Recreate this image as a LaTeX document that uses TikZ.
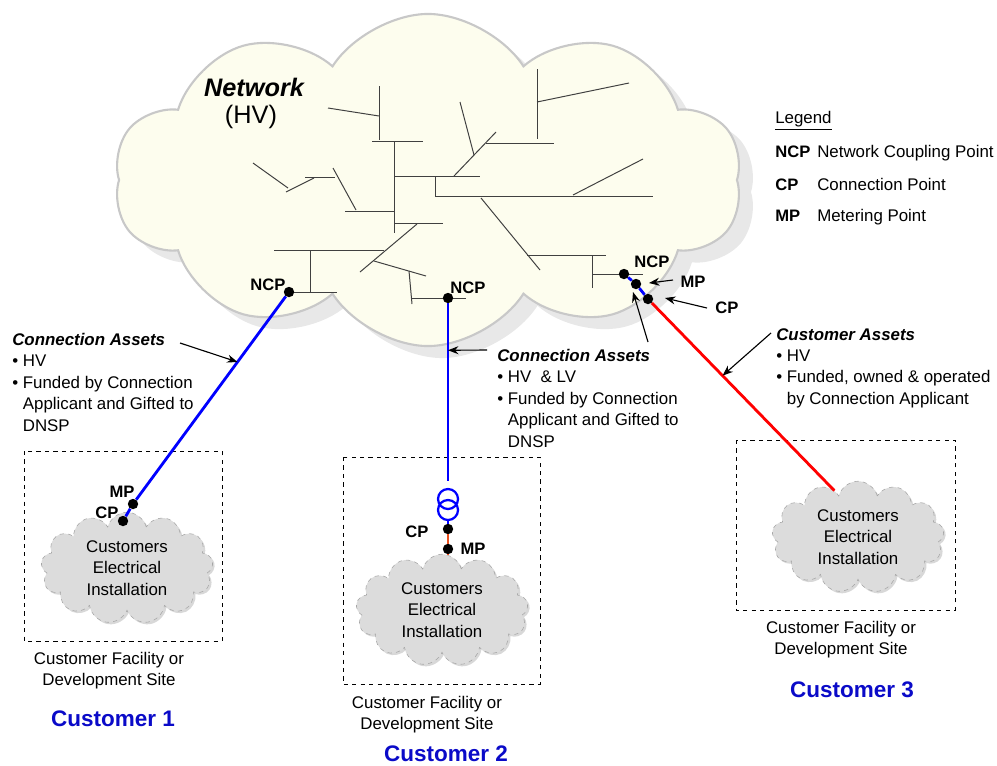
\documentclass[tikz,border=0pt]{standalone}
\usepackage{fontspec}
\setmainfont{Liberation Sans}
\usetikzlibrary{shapes.symbols,shadows,arrows.meta,calc}

\definecolor{ivoire}{RGB}{253,253,238}
\definecolor{bord}{RGB}{200,200,200}
\definecolor{ombre}{RGB}{232,232,232}
\definecolor{grisclair}{RGB}{220,220,220}
\definecolor{bleu}{RGB}{0,0,255}
\definecolor{rouge}{RGB}{255,0,0}
\definecolor{orangebt}{RGB}{235,80,30}
\definecolor{bleuclient}{RGB}{10,10,200}

\begin{document}
\begin{tikzpicture}[x=0.025cm, y=-0.025cm,
  net/.style={line width=0.7pt, black!75},
  pt/.style={circle, fill=black, inner sep=0pt, minimum size=0.26cm},
  tag/.style={font=\bfseries\fontsize{11.8}{14}\selectfont, inner sep=0pt},
  txt/.style={font=\fontsize{12}{15.2}\selectfont, inner sep=0pt, align=left},
  site/.style={dashed, line width=0.6pt},
  inst/.style={cloud, cloud puffs=13, cloud ignores aspect, draw=gray!70, dashed,
    fill=grisclair, minimum width=4.3cm, minimum height=2.65cm, align=center,
    font=\fontsize{12}{15.2}\selectfont,
    drop shadow={shadow xshift=0.05cm, shadow yshift=-0.05cm, fill=gray!60, opacity=0.5}},
  hv/.style={bleu, line width=2pt},
  ptr/.style={-{Stealth[length=2.6mm,width=2mm]}, line width=0.8pt},
  client/.style={font=\bfseries\fontsize{16}{19}\selectfont, text=bleuclient}]
  \useasboundingbox (0,0) rectangle (997,765);

  \node[cloud, cloud puffs=10, cloud puff arc=115, cloud ignores aspect, draw=bord,
    line width=1.5pt, fill=ivoire, minimum width=15.7cm, minimum height=8.3cm,
    drop shadow={shadow xshift=0.35cm, shadow yshift=-0.3cm, fill=ombre, opacity=1}]
    (reseau) at (428,180) {};
  \node[font=\bfseries\itshape\fontsize{18}{20}\selectfont] (titre) at (254,87) {Network};
  \node[font=\fontsize{18}{20}\selectfont] (niveau) at (251,117) {(HV)};

  \foreach \xa/\ya/\xb/\yb in {379/86/379/140, 328/108/379/116, 372/141/423/141,
      394/141/394/233, 394/176/480/176, 435/176/435/196, 435/196/653/196,
      573/195/643/159, 454/176/496/132, 460/102/474/155, 486/143/554/143,
      537/69/537/139, 537/102/629/83, 481/198/540/270, 527/255/606/255,
      592/255/592/288, 592/274/643/274, 253/163/288/188, 286/192/314/178,
      305/177/335/177, 333/168/356/210, 345/211/394/211, 394/223/443/223,
      417/224/360/272, 274/250/384/250, 310/250/310/292, 289/292/337/292,
      374/261/426/276, 409/271/412/304, 412/298/466/298} {
    \draw[net] (\xa,\ya) -- (\xb,\yb);
  }

  \node[txt, anchor=base west] (legende) at (775,123.5) {\underline{Legend}};
  \foreach \ab/\nom/\y in {NCP/Network Coupling Point/157, CP/Connection Point/190,
      MP/Metering Point/221} {
    \node[tag, anchor=base west] (l\ab) at (775,\y) {\ab};
    \node[txt, anchor=base west] (d\ab) at (817,\y) {\nom};
  }

  \draw[site] (24,451) rectangle (222,641);
  \draw[site] (343,457) rectangle (540,684);
  \draw[site] (736,440) rectangle (955,610);

  \node[inst] (inst1) at (127,568) {Customers\\Electrical\\Installation};
  \node[inst] (inst2) at (442,610) {Customers\\Electrical\\Installation};
  \node[inst] (inst3) at (858,537) {Customers\\Electrical\\Installation};

  \node[pt] (ncp1) at (289,292) {};
  \node[pt] (mp1) at (133,504) {};
  \node[pt] (cp1) at (123,521) {};
  \node[pt] (ncp2) at (448,298) {};
  \node[pt] (cp2) at (448,529) {};
  \node[pt] (mp2) at (448,549) {};
  \node[pt] (ncp3) at (624,274) {};
  \node[pt] (mp3) at (636,284) {};
  \node[pt] (cp3) at (648,299) {};
  \node[circle, draw=bleu, line width=1.6pt, minimum size=0.5cm, inner sep=0pt] (tra) at (448,499) {};
  \node[circle, draw=bleu, line width=1.6pt, minimum size=0.5cm, inner sep=0pt] (trb) at (448,510) {};

  \draw[hv] (ncp1) -- (mp1) -- (cp1);
  \draw[hv] (ncp2) -- ([yshift=0.18cm]tra.north);
  \draw[hv] (trb) -- (cp2);
  \draw[orangebt, line width=1.4pt] (cp2) -- (mp2) -- (mp2 |- inst2.north);
  \draw[hv] (ncp3) -- (mp3) -- (cp3);
  \draw[rouge, line width=2pt] (cp3) -- (inst3.117);

  \node[tag] (tncp1) at (268,285) {NCP};
  \node[tag] (tmp1) at (122,492) {MP};
  \node[tag] (tcp1) at (107,513) {CP};
  \node[tag] (tncp2) at (468,288) {NCP};
  \node[tag] (tcp2) at (417,532) {CP};
  \node[tag] (tmp2) at (473,549) {MP};
  \node[tag] (tncp3) at (652,262) {NCP};
  \node[tag] (tmp3) at (693,282) {MP};
  \node[tag] (tcp3) at (727,308) {CP};

  \node[txt, anchor=north west] (actifs1) at (12,333) {{\bfseries\itshape Connection Assets}\\
    \textbullet\ HV\\ \textbullet\ Funded by Connection\\
    \phantom{\textbullet\ }Applicant and Gifted to\\ \phantom{\textbullet\ }DNSP};
  \node[txt, anchor=north west] (actifs2) at (497,349) {{\bfseries\itshape Connection Assets}\\
    \textbullet\ HV\ \ \& LV\\ \textbullet\ Funded by Connection\\
    \phantom{\textbullet\ }Applicant and Gifted to\\ \phantom{\textbullet\ }DNSP};
  \node[txt, anchor=north west] (actifs3) at (776,328) {{\bfseries\itshape Customer Assets}\\
    \textbullet\ HV\\ \textbullet\ Funded, owned \& operated\\
    \phantom{\textbullet\ }by Connection Applicant};

  \node[txt, align=center, anchor=north] (lieu1) at (109,652) {Customer Facility or\\Development Site};
  \node[txt, align=center, anchor=north] (lieu2) at (427,696) {Customer Facility or\\Development Site};
  \node[txt, align=center, anchor=north] (lieu3) at (841,621) {Customer Facility or\\Development Site};
  \node[client] (client1) at (113,719) {Customer 1};
  \node[client] (client2) at (446,754) {Customer 2};
  \node[client] (client3) at (852,690) {Customer 3};

  \coordinate (f1) at (180,343);
  \coordinate (f2) at (487,350);
  \coordinate (f3) at (648,342);
  \coordinate (g3) at (633,292);
  \coordinate (fmp) at (673,280);
  \coordinate (gmp) at (649,283);
  \coordinate (fcp) at (707,308);
  \coordinate (gcp) at (665,298);
  \coordinate (f4) at (771,333);
  \draw[ptr] (f1) -- ($(ncp1)!0.33!(mp1)$);
  \draw[ptr] (f2) -- ($(ncp2)!0.26!(tra)$);
  \draw[ptr] (f3) -- (g3);
  \draw[ptr] (fmp) -- (gmp);
  \draw[ptr] (fcp) -- (gcp);
  \draw[ptr] (f4) -- ($(cp3)!0.4!(inst3.117)$);
\end{tikzpicture}
\end{document}
